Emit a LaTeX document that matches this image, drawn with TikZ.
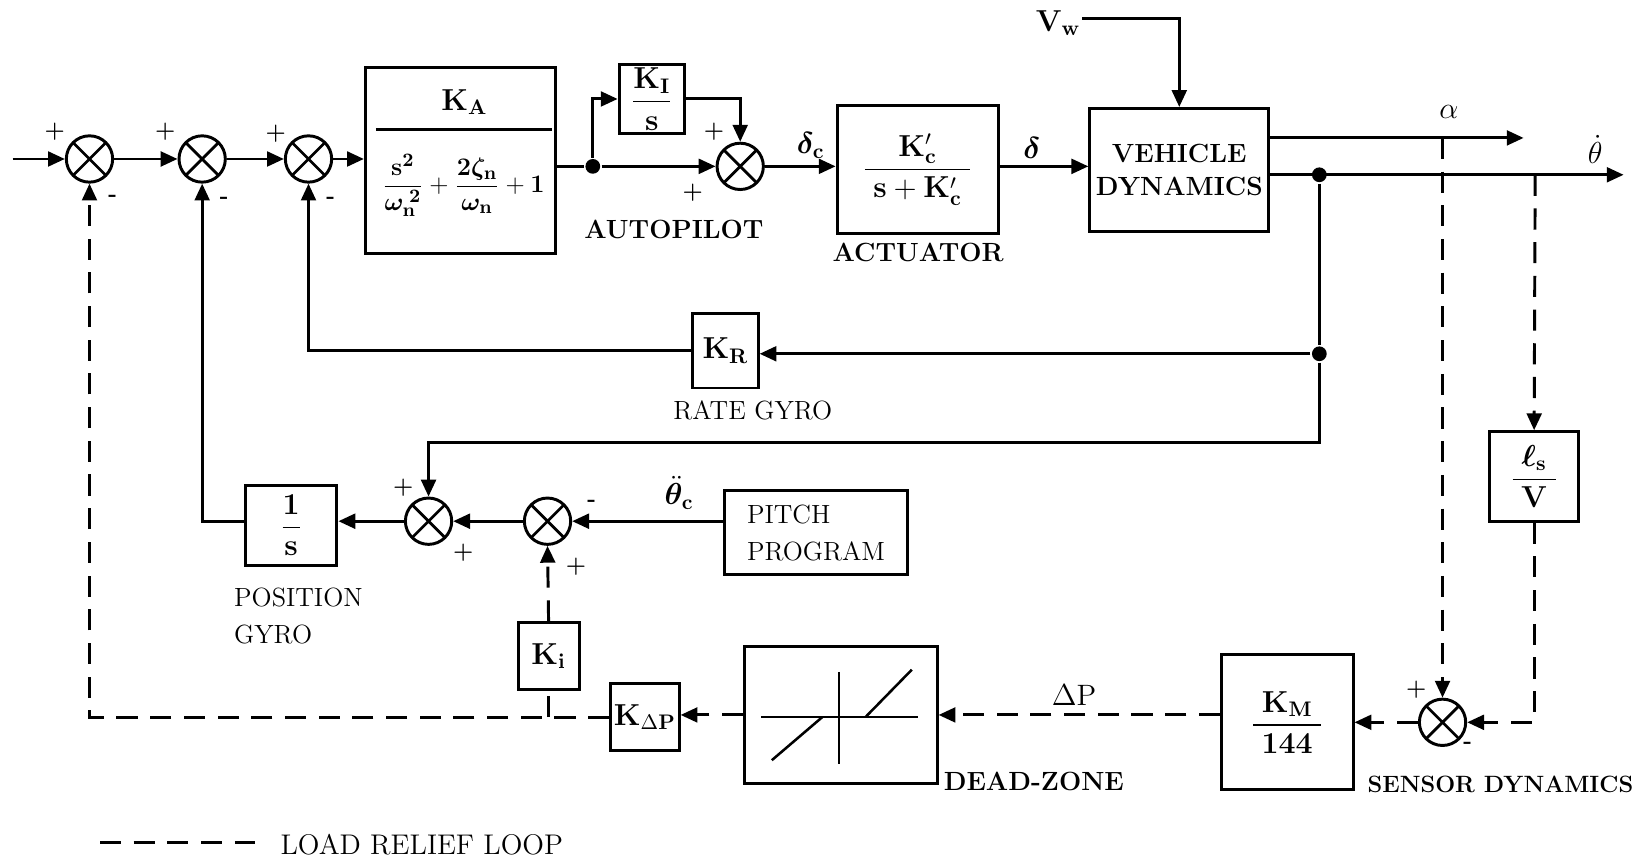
\documentclass[tikz,border=0pt]{standalone}
\usepackage{amsmath}
\usepackage{bm}
\usetikzlibrary{arrows.meta,calc}
\begin{document}
\begin{tikzpicture}[x=0.5pt,y=-0.5pt,
  line width=1.4pt,
  every node/.style={font=\fontsize{12}{14}\selectfont, inner sep=0pt},
  mth/.style={font=\fontsize{14}{16}\selectfont},
  arr/.style={-{Triangle[length=8pt,width=7pt]}},
  dsh/.style={dash pattern=on 10pt off 6pt},
  blk/.style={draw, rectangle, line width=1.4pt},
  sumj/.style={draw, circle, line width=1.4pt, minimum size=22pt,
    path picture={\draw[line width=1.3pt]
      (path picture bounding box.north west)--(path picture bounding box.south east)
      (path picture bounding box.north east)--(path picture bounding box.south west);}},
  dotn/.style={circle, fill, minimum size=7pt},
  lbl/.style={font=\bfseries\fontsize{12.5}{16}\selectfont},
  rlbl/.style={font=\fontsize{12.5}{17.5}\selectfont},
  sgn/.style={font=\bfseries\fontsize{11}{12}\selectfont},
  innerline/.style={line width=1.2pt},
]
\useasboundingbox (0,0) rectangle (1568,817);

% ---------- forward path ----------
\coordinate (inp) at (12,151);
\node[sumj] (s1) at (85,151) {};
\node[sumj] (s2) at (192,151) {};
\node[sumj] (s3) at (293,151) {};
\node[blk, minimum width=90.5pt, minimum height=88.5pt] (ap) at (437.5,152.5) {};
\node[mth] (apnum) at (441,97) {$\mathbf{K}_{\mathbf{A}}$};
\draw (357,123) -- (524,123);
\node[font=\fontsize{13}{15}\selectfont] (apden) at (440,176) {$\dfrac{\mathbf{s}^{\mathbf{2}}}{\bm{\omega}_{\mathbf{n}}^{\;\mathbf{2}}}+\dfrac{\mathbf{2}\bm{\zeta}_{\mathbf{n}}}{\bm{\omega}_{\mathbf{n}}}+\mathbf{1}$};
\node[dotn] (d1) at (563,158) {};
\node[blk, mth, minimum width=31pt, minimum height=33pt] (KI) at (619,94) {$\dfrac{\mathbf{K}_{\mathbf{I}}}{\mathbf{s}}$};
\node[sumj] (s4) at (703,158) {};
\node[blk, mth, minimum width=76.5pt, minimum height=61pt] (act) at (871.5,161) {$\dfrac{\mathbf{K}'_{\mathbf{c}}}{\;\mathbf{s}+\mathbf{K}'_{\mathbf{c}}\;}$};
\node[blk, lbl, align=center, minimum width=85pt, minimum height=58.5pt] (veh) at (1120,161.5) {VEHICLE\\DYNAMICS};
\node[mth] (Vw) at (1005,22) {$\mathbf{V}_{\mathbf{w}}$};
\coordinate (aend) at (1447,131);
\coordinate (tend) at (1542,166);
\node[dotn] (d2) at (1253,166) {};
\node[dotn] (d3) at (1253,336) {};
\coordinate (atap) at (1370,131);
\coordinate (ttap) at (1458,166);
\coordinate (fbturn) at (1253,420);

\draw[arr] (inp) -- (s1.west);
\draw[arr] (s1.east) -- (s2.west);
\draw[arr] (s2.east) -- (s3.west);
\draw[arr] (s3.east) -- (s3.east -| ap.west);
\draw (ap.east |- d1) -- (d1);
\draw[arr] (d1) -- (s4.west);
\draw[arr] (d1) |- (KI.west);
\draw[arr] (KI.east) -| (s4.north);
\draw[arr] (s4.east) -- (s4.east -| act.west);
\draw[arr] (act.east |- s4.east) -- (veh.west |- s4.east);
\draw[arr] ([yshift=2pt]Vw.east) -| (veh.north);
\draw[arr] (veh.east |- aend) -- (aend);
\draw[arr] (veh.east |- tend) -- (tend);

% ---------- rate and position loops ----------
\node[blk, mth, minimum width=31pt, minimum height=35.5pt] (KR) at (689,333) {$\mathbf{K}_{\mathbf{R}}$};
\node[sumj] (s6) at (407,495) {};
\node[sumj] (s7) at (520,495) {};
\node[blk, mth, minimum width=43.5pt, minimum height=38pt] (pos) at (276.5,499) {$\dfrac{\mathbf{1}}{\mathbf{s}}$};
\node[blk, rlbl, align=left, minimum width=87pt, minimum height=40pt] (pitch) at (775,506) {PITCH\\PROGRAM};

\draw (d2) -- (d3);
\draw[arr] (d3) -- (d3 -| KR.east);
\draw[arr] (KR.west) -| (s3.south);
\draw[arr] (d3) -- (fbturn) -| (s6.north);
\draw[arr] (s7.west) -- (s6.east);
\draw[arr] (s6.west) -- (s6.west -| pos.east);
\draw[arr] (pos.west |- s6.west) -| (s2.south);
\draw[arr] (pitch.west |- s7.east) -- (s7.east);

% ---------- load relief loop ----------
\node[blk, mth, minimum width=29pt, minimum height=31.5pt] (Ki) at (521,623) {$\mathbf{K}_{\mathbf{i}}$};
\node[blk, mth, minimum width=32.5pt, minimum height=32pt] (KDP) at (612.5,681) {$\mathbf{K}_{\Delta\mathbf{P}}$};
\node[blk, minimum width=91.5pt, minimum height=65pt] (DZ) at (798.5,679) {};
\node[blk, mth, minimum width=62.5pt, minimum height=64pt] (KM) at (1222.5,686) {$\dfrac{\;\mathbf{K}_{\mathbf{M}}\;}{\mathbf{144}}$};
\node[sumj] (s8) at (1370,686) {};
\node[blk, mth, minimum width=42.5pt, minimum height=42.5pt] (ls) at (1457,452.5) {$\dfrac{\bm{\ell}_{\mathbf{s}}}{\;\mathbf{V}\;}$};
\coordinate (kitap) at (521,681);

\draw[innerline] (723,681) -- (872,681);
\draw[innerline] (797,638) -- (797,726);
\draw[innerline] (733,722) -- (781,681);
\draw[innerline] (822,681) -- (866,636);

\draw[dsh,arr] (atap) -- (s8.north);
\draw[dsh,arr] (ttap) -- (ls.north);
\draw[dsh,arr] (ls.south) |- (s8.east);
\draw[dsh,arr] (s8.west) -- (s8.west -| KM.east);
\draw[dsh,arr] (KM.west |- DZ.east) -- (DZ.east);
\draw[dsh,arr] (DZ.west) -- (DZ.west -| KDP.east);
\draw[dsh,arr] (KDP.west) -| (s1.south);
\draw[dsh] (kitap) -- (Ki.south);
\draw[dsh,arr] (Ki.north) -- (s7.south);

% legend
\coordinate (lg1) at (95,800);
\coordinate (lg2) at (242,800);
\draw[dsh] (lg1) -- (lg2);
\node[font=\fontsize{13.5}{16}\selectfont, anchor=west] (lgt) at (265,802) {LOAD RELIEF LOOP};

% ---------- signs ----------
\node[sgn] (p1) at (52,125) {+};
\node[sgn] (m1) at (107,188) {-};
\node[sgn] (p2) at (157,125) {+};
\node[sgn] (m2) at (213,190) {-};
\node[sgn] (p3) at (262,127) {+};
\node[sgn] (m3) at (314,190) {-};
\node[sgn] (p4a) at (678,125) {+};
\node[sgn] (p4b) at (658,183) {+};
\node[sgn] (p6a) at (383,463) {+};
\node[sgn] (p6b) at (440,525) {+};
\node[sgn] (m7) at (562,478) {-};
\node[sgn] (p7) at (547,538) {+};
\node[sgn] (p8) at (1345,655) {+};
\node[sgn] (m8) at (1394,708) {-};

% ---------- signal labels ----------
\node[mth] (ldc) at (770,138) {$\bm{\delta}_{\mathbf{c}}$};
\node[mth] (ld) at (980,141) {$\bm{\delta}$};
\node[mth] (lal) at (1376,106) {$\alpha$};
\node[mth] (lth) at (1515,142) {$\dot{\theta}$};
\node[mth] (lthc) at (645,468) {$\ddot{\bm{\theta}}_{\mathbf{c}}$};
\node[mth] (ldp) at (1020,660) {$\Delta$P};

% ---------- block names ----------
\node[lbl] (tap) at (640,218) {AUTOPILOT};
\node[lbl] (tact) at (872,240) {ACTUATOR};
\node[rlbl] (trg) at (715,390) {RATE GYRO};
\node[rlbl, align=left, anchor=west] (tpg) at (221,585) {POSITION\\GYRO};
\node[lbl, anchor=west] (tdz) at (895,742) {DEAD-ZONE};
\node[font=\bfseries\fontsize{11.2}{14}\selectfont] (tsd) at (1425,745) {SENSOR DYNAMICS};
\end{tikzpicture}
\end{document}
